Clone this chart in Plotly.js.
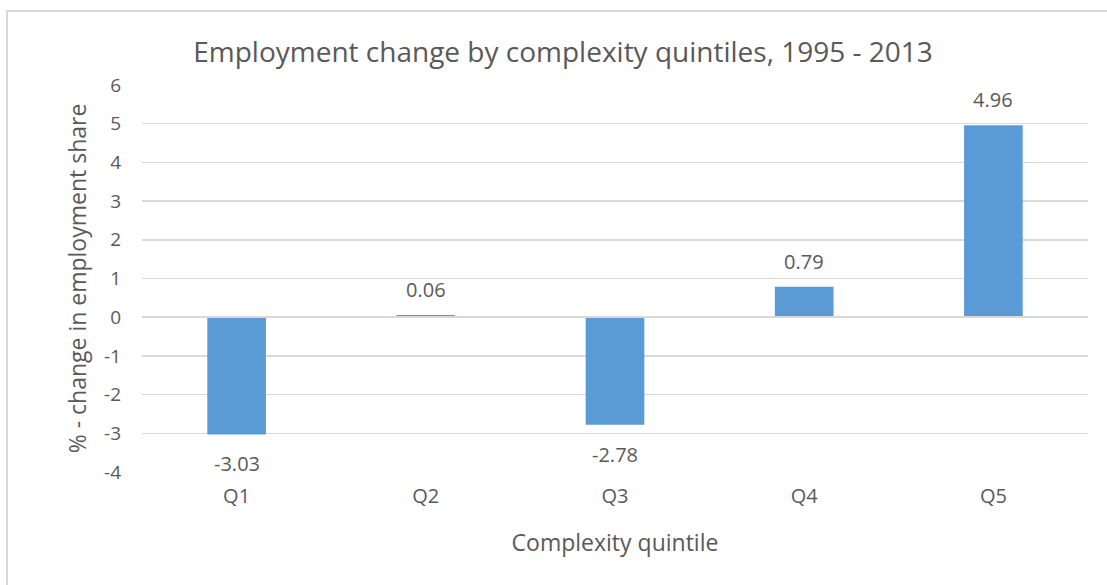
<!DOCTYPE html>
<html>
<head>
<meta charset="utf-8">
<script src="https://cdn.plot.ly/plotly-3.0.1.min.js"></script>
<style>
html,body{margin:0;padding:0;background:#fff;}
#chart{width:1107px;height:585px;}
#frame{position:absolute;left:6px;top:10px;width:1120px;height:600px;border:2px solid #d9d9d9;box-sizing:border-box;pointer-events:none;}
</style>
</head>
<body>
<div id="chart"></div>
<div id="frame"></div>
<script>
const categories = ["Q1", "Q2", "Q3", "Q4", "Q5"];
const values = [-3.03, 0.06, -2.78, 0.79, 4.96];
const labels = ["-3.03", "0.06", "-2.78", "0.79", "4.96"];
const yTicks = [-4, -3, -2, -1, 0, 1, 2, 3, 4, 5, 6];

const FONT = "Open Sans, Noto Sans, sans-serif";
const TXT = "#595959";

const trace = {
  type: "bar",
  x: categories,
  y: values,
  width: 0.31,
  marker: {color: "#5b9bd5"},
  hoverinfo: "x+y"
};

const annotations = categories.map((c, i) => ({
  x: c,
  y: values[i],
  text: labels[i],
  showarrow: false,
  xref: "x",
  yref: "y",
  yanchor: values[i] >= 0 ? "bottom" : "top",
  yshift: values[i] >= 0 ? 10 : -14,
  font: {family: FONT, size: 20, color: TXT}
}));

const layout = {
  width: 1107,
  height: 585,
  margin: {l: 142, r: 19, t: 85, b: 113},
  paper_bgcolor: "rgba(0,0,0,0)",
  plot_bgcolor: "rgba(0,0,0,0)",
  showlegend: false,
  title: {
    text: "Employment change by complexity quintiles, 1995 - 2013",
    x: 0.5086,
    xref: "container",
    xanchor: "center",
    y: 0.911,
    yref: "container",
    yanchor: "middle",
    font: {family: FONT, size: 28, color: TXT}
  },
  xaxis: {
    type: "category",
    showgrid: false,
    zeroline: false,
    showline: false,
    ticks: "",
    ticklabelstandoff: 10,
    tickfont: {family: FONT, size: 20, color: TXT},
    title: {text: "Complexity quintile", font: {family: FONT, size: 23, color: TXT}, standoff: 26}
  },
  yaxis: {
    range: [-4, 6],
    tickvals: yTicks,
    ticktext: yTicks.map(String),
    showgrid: true,
    gridcolor: "#d9d9d9",
    gridwidth: 1.5,
    zeroline: true,
    zerolinecolor: "#d9d9d9",
    zerolinewidth: 2.5,
    zerolinelayer: "above traces",
    showline: false,
    ticks: "",
    ticklen: 0,
    ticklabelstandoff: 20,
    tickfont: {family: FONT, size: 19, color: TXT},
    title: {text: "% - change in employment share", font: {family: FONT, size: 23, color: TXT}, standoff: 10}
  },
  annotations: annotations
};

Plotly.newPlot("chart", [trace], layout, {displayModeBar: false, staticPlot: true});
</script>
</body>
</html>
